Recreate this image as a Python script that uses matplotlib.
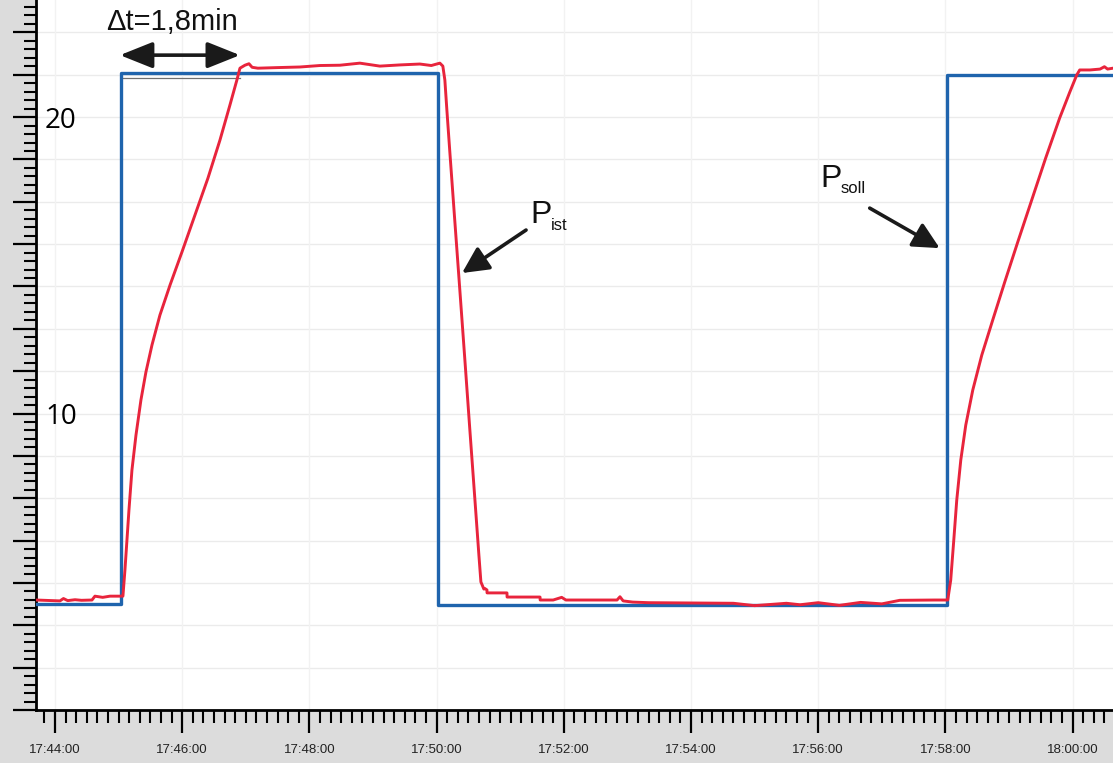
import matplotlib
matplotlib.use('Agg')
import matplotlib.pyplot as plt
from matplotlib.ticker import FixedLocator, FuncFormatter, NullFormatter
import matplotlib.transforms as mtrans

# ---------------- data (time in seconds after 17:44:00, power values) -------------
base_h, base_m = 17, 44

# P_soll (set point), step function
soll_t = [-17.9, 62.3, 361.3, 841.5, 998.1]
soll_p = [3.57, 21.48, 3.55, 21.42, 21.42]

# thin grey reference line
ref_t = [62.3, 174.5]
ref_p = [21.32, 21.32]

# P_ist (actual value)
ist_t = [-17.9, 4.7, 8, 12, 18.9, 25, 34.9, 37.7, 45, 51.9, 63.2,
         64.1, 66.0, 67.9, 69.8, 72.6, 76.4, 81.1, 85.8, 91.5, 99.0, 108.5, 119.8, 132.0,
         144.3, 155.6, 165.0, 171.6, 174.5,
         179.2, 183, 186, 191.4, 210, 231.1, 250, 268.8, 287.6, 306.5, 325.4, 344.2, 355, 363.1, 365.9,
         367.8, 369.7, 372.5, 377.2, 382.0, 386.7, 391.4, 396.1, 399.9, 401.8, 404.6,
         405.5, 407.5, 407.6, 426.4, 426.5, 457.6, 457.7, 470, 478, 482, 530.2, 533, 536, 545, 560,
         600, 640, 660, 690, 702.9, 720, 740, 760, 780, 797, 830, 841.5,
         842.2, 845.0, 847.9, 850.7, 854.5, 859.2, 865.8, 874.3, 884.6, 896.0, 908.2, 921.4,
         934.6, 947.8, 957.3, 963.9, 966.7,
         970, 976.4, 985.9, 990, 993, 998.1]
ist_p = [3.71, 3.68, 3.76, 3.69, 3.72, 3.70, 3.71, 3.84, 3.80, 3.84, 3.84,
         3.84, 4.72, 5.73, 6.75, 8.09, 9.27, 10.46, 11.40, 12.31, 13.32, 14.33, 15.45, 16.69,
         17.94, 19.22, 20.40, 21.25, 21.65,
         21.75, 21.80, 21.68, 21.65, 21.67, 21.69, 21.74, 21.75, 21.82, 21.72, 21.76, 21.79, 21.74, 21.82, 21.72,
         21.25, 20.24, 18.82, 16.49, 14.13, 11.80, 9.44, 7.12, 5.23, 4.32, 4.08,
         4.10, 4.05, 3.95, 3.95, 3.81, 3.81, 3.71, 3.71, 3.80, 3.71, 3.71, 3.82, 3.68, 3.64, 3.62,
         3.61, 3.60, 3.52, 3.60, 3.55, 3.62, 3.53, 3.63, 3.58, 3.70, 3.71, 3.71,
         3.71, 4.38, 5.73, 7.08, 8.43, 9.61, 10.79, 11.97, 13.15, 14.44, 15.78, 17.20,
         18.62, 19.97, 20.84, 21.42, 21.59,
         21.59, 21.59, 21.62, 21.70, 21.62, 21.65]

y_labels = {20: "20", 10: "10"}
dt_text = "\u0394t=1,8min"

# ---------------- figure ----------------
W, H = 1113, 763
fig = plt.figure(figsize=(W / 100, H / 100), dpi=100, facecolor='#dcdcdc')
ax = fig.add_axes([36 / W, 53 / H, 1 - 36 / W, 710 / H])
ax.set_facecolor('white')
ax.set_xlim(-17.9, 998.1)
ax.set_ylim(0, 23.95)

# grid
ymaj = [k * 10 / 7 for k in range(17)]
ymin = [k * 2 / 7 for k in range(84)]
for yv in ymaj[1:]:
    ax.axhline(yv, color='#ebebeb', lw=1.0, zorder=0)
for xv in range(0, 961, 120):
    ax.axvline(xv, color='#f2f2f2', lw=1.0, zorder=0)

ax.plot(ref_t, ref_p, color='#707070', lw=0.9, zorder=2)
ax.plot(soll_t, soll_p, drawstyle='steps-post', color='#1f64ad', lw=2.4, zorder=3)
ax.plot(ist_t, ist_p, color='#e8243c', lw=2.1, zorder=4)

# ticks
ax.yaxis.set_major_locator(FixedLocator(ymaj))
ax.yaxis.set_minor_locator(FixedLocator(ymin))
ax.yaxis.set_major_formatter(NullFormatter())
ax.tick_params(axis='y', which='major', direction='out', length=16.5, width=1.6, color='black')
ax.tick_params(axis='y', which='minor', direction='out', length=9, width=1.5, color='black')

ax.xaxis.set_major_locator(FixedLocator(list(range(0, 961, 120))))
ax.xaxis.set_minor_locator(FixedLocator(list(range(-10, 998, 10))))


def fmt_time(v, pos=None):
    s = int(round(v)) + base_m * 60 + base_h * 3600
    return "%d:%02d:%02d" % (s // 3600, (s % 3600) // 60, s % 60)


ax.xaxis.set_major_formatter(FuncFormatter(fmt_time))
ax.tick_params(axis='x', which='major', direction='out', length=16.5, width=1.6, color='black',
               pad=8, labelsize=9.5, labelcolor='#222222')
ax.tick_params(axis='x', which='minor', direction='out', length=9, width=1.5, color='black')
for lab in ax.get_xticklabels():
    lab.set_fontfamily('Liberation Sans')

for s in ['top', 'right']:
    ax.spines[s].set_visible(False)
for s in ['left', 'bottom']:
    ax.spines[s].set_linewidth(2.0)
    ax.spines[s].set_color('black')

# y labels inside the plot
trans = mtrans.blended_transform_factory(ax.transAxes, ax.transData)
for yv, txt in y_labels.items():
    ax.text(9 / 1077, yv - 0.12, txt, transform=trans, ha='left', va='center',
            fontsize=20, fontfamily='Open Sans', color='black', zorder=5)

# annotations
ax.annotate('', xy=(174.5, 22.09), xytext=(61.3, 22.09),
            arrowprops=dict(arrowstyle='<|-|>,head_length=1.0,head_width=0.4', mutation_scale=20,
                            lw=2.6, color='#1a1a1a', shrinkA=0, shrinkB=0), annotation_clip=False)
ax.text(110.4, 23.2, dt_text, ha='center', va='center', fontsize=21,
        fontfamily='Liberation Sans', color='#111111', clip_on=False)

ax.annotate('', xy=(384.0, 14.74), xytext=(444.4, 16.19),
            arrowprops=dict(arrowstyle='-|>,head_length=0.8,head_width=0.4', mutation_scale=20,
                            lw=2.6, color='#1a1a1a', shrinkA=0, shrinkB=0))
ax.text(448.2, 16.42, 'P', ha='left', va='baseline', fontsize=23,
        fontfamily='Liberation Sans', color='#111111')
ax.text(467.8, 16.19, 'ist', ha='left', va='baseline', fontsize=12,
        fontfamily='Liberation Sans', color='#111111')

ax.annotate('', xy=(834.6, 15.58), xytext=(768.6, 16.93),
            arrowprops=dict(arrowstyle='-|>,head_length=0.8,head_width=0.4', mutation_scale=20,
                            lw=2.6, color='#1a1a1a', shrinkA=0, shrinkB=0))
ax.text(721.7, 17.64, 'P', ha='left', va='baseline', fontsize=23,
        fontfamily='Liberation Sans', color='#111111')
ax.text(741.5, 17.44, 'soll', ha='left', va='baseline', fontsize=12,
        fontfamily='Liberation Sans', color='#111111')

fig.savefig('out.png', dpi=100, facecolor=fig.get_facecolor())
